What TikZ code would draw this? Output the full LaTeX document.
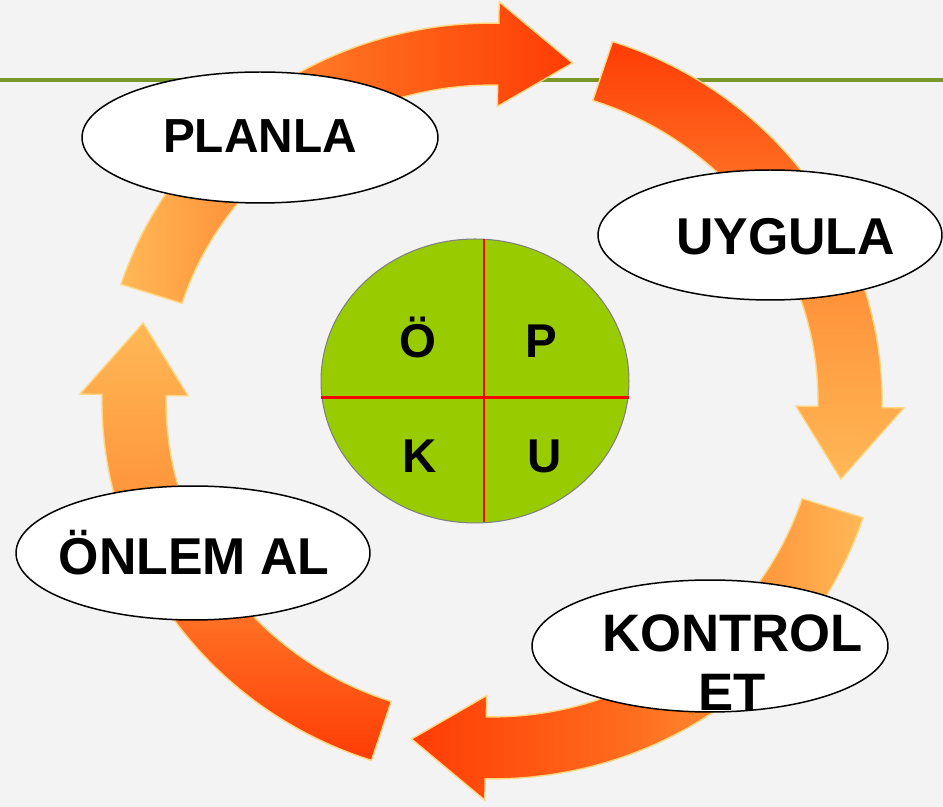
\documentclass[tikz,border=0pt]{standalone}
\usepackage{fontspec}
\setmainfont{Liberation Sans}
\usetikzlibrary{shapes.geometric}
\definecolor{bgray}{RGB}{243,243,243}
\definecolor{oline}{RGB}{122,150,40}
\definecolor{palearrow}{RGB}{255,184,86}
\definecolor{midarrow}{RGB}{255,110,30}
\definecolor{redarrow}{RGB}{255,60,5}
\definecolor{glow}{RGB}{255,214,130}
\definecolor{pdcagreen}{RGB}{153,204,0}
\tikzset{
	arrowA/.style={draw=glow,line width=0.8pt,left color=palearrow,right color=redarrow,middle color=midarrow},
	arrowB/.style={draw=glow,line width=0.8pt,top color=redarrow,bottom color=palearrow,middle color=midarrow!60!palearrow},
	arrowC/.style={draw=glow,line width=0.8pt,right color=palearrow,left color=redarrow,middle color=midarrow},
	arrowD/.style={draw=glow,line width=0.8pt,bottom color=redarrow,top color=palearrow,middle color=midarrow!60!palearrow},
	stage/.style={ellipse,draw=black,fill=white,line width=0.85pt,inner sep=0pt,outer sep=0pt},
	stagetext/.style={anchor=base,font=\fontsize{29.5}{34}\selectfont\bfseries},
	letter/.style={anchor=base,font=\fontsize{27}{30}\selectfont\bfseries}
}
\begin{document}
\begin{tikzpicture}[x=0.02cm,y=0.02cm]
	\useasboundingbox (0,0) rectangle (943,807);
	\fill[bgray] (0,0) rectangle (943,807);
	\draw[oline,line width=2.2pt] (0,727) -- (943,727);
	\begin{scope}[shift={(492,406)},yscale=0.969]
		\foreach \t/\s in {162/arrowA,72/arrowB,-18/arrowC,-108/arrowD}
			\draw[\s] (\t:390) arc[start angle=\t,end angle=\t-73,radius=390] -- (\t-73:412) -- (\t-85:358) -- (\t-73:304) -- (\t-73:326) arc[start angle=\t-73,end angle=\t,radius=326] -- cycle;
	\end{scope}
	\node[stage,minimum width=7.12cm,minimum height=2.62cm] (planla) at (260,669.5) {};
	\node[stage,minimum width=6.88cm,minimum height=2.6cm] (uygula) at (770,572) {};
	\node[stage,minimum width=7.12cm,minimum height=2.64cm] (kontrol) at (710,161) {};
	\node[stage,minimum width=7.08cm,minimum height=2.68cm] (onlem) at (193,254) {};
	\node[stagetext,font=\fontsize{27.2}{32}\selectfont\bfseries] (planlaT) at (260,654) {PLANLA};
	\node[stagetext] (uygulaT) at (785.5,552) {UYGULA};
	\node[stagetext,anchor=center,align=center,font=\fontsize{30}{34}\selectfont\bfseries] (kontrolT) at (732.5,144.3) {KONTROL\\ET};
	\node[stagetext] (onlemT) at (194,232) {ÖNLEM AL};
	\node[ellipse,draw=gray,fill=pdcagreen,line width=0.6pt,inner sep=0pt,minimum width=6.16cm,minimum height=5.68cm] (pdca) at (475,426) {};
	\draw[red,line width=1.7pt] (484,284.5) -- (484,567.5);
	\draw[red,line width=1.7pt] (321,409) -- (629,409);
	\node[letter] (oT) at (418,449) {Ö};
	\node[letter] (pT) at (541,449) {P};
	\node[letter] (kT) at (420,334) {K};
	\node[letter] (uT) at (545,334) {U};
\end{tikzpicture}
\end{document}
